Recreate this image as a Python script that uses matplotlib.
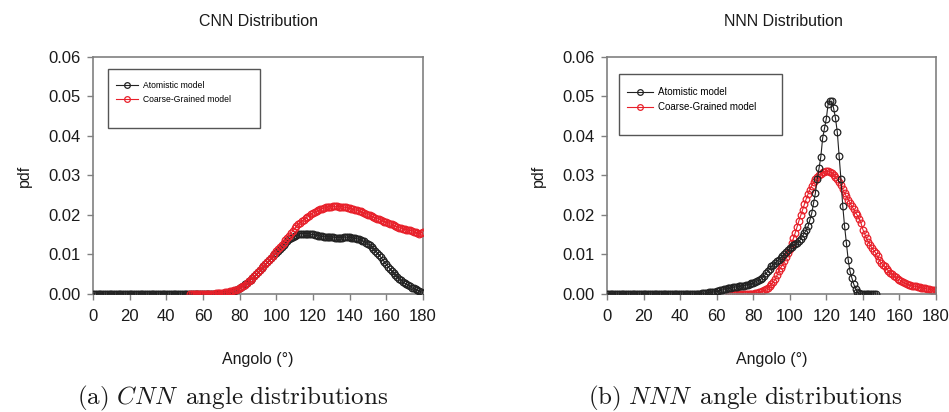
import numpy as np
from matplotlib import pyplot as plt
from matplotlib.patches import Rectangle
from matplotlib.ticker import FormatStrFormatter

""" ======================= Data (read off the figure) ======================= """
# CNN panel
cnn_atom_x = np.arange(0, 181)
cnn_atom_y = [
    0.0, 0.0, 0.0, 0.0, 0.0, 0.0, 0.0, 0.0, 0.0, 0.0,
    0.0, 0.0, 0.0, 0.0, 0.0, 0.0, 0.0, 0.0, 0.0, 0.0,
    0.0, 0.0, 0.0, 0.0, 0.0, 0.0, 0.0, 0.0, 0.0, 0.0,
    0.0, 0.0, 0.0, 0.0, 0.0, 0.0, 0.0, 0.0, 0.0, 0.0,
    0.0, 0.0, 0.0, 0.0, 0.0, 0.0, 0.0, 0.0, 0.0, 0.0,
    0.0, 0.0, 0.0, 0.0, 0.0, 0.0, 0.0, 0.0, 0.0, 0.0,
    0.0, 0.0, 0.0, 0.0, 0.0, 0.0, 0.0, 0.0, 0.0, 0.0,
    0.0, 0.0, 0.0, 0.0001, 0.0002, 0.0003, 0.0005, 0.0007, 0.0009, 0.0012,
    0.0015, 0.0018, 0.0021, 0.0025, 0.0028, 0.0032, 0.0036, 0.0041, 0.0045, 0.0050,
    0.0055, 0.0060, 0.0065, 0.0070, 0.0075, 0.0080, 0.0085, 0.0090, 0.0095, 0.0100,
    0.0105, 0.0110, 0.0115, 0.0120, 0.0125, 0.0130, 0.0134, 0.0138, 0.0142, 0.0145,
    0.0147, 0.0150, 0.0152, 0.0153, 0.0153, 0.0153, 0.0153, 0.0152, 0.0152, 0.0151,
    0.0151, 0.0150, 0.0149, 0.0148, 0.0147, 0.0146, 0.0145, 0.0145, 0.0144, 0.0144,
    0.0144, 0.0144, 0.0143, 0.0143, 0.0143, 0.0143, 0.0143, 0.0144, 0.0144, 0.0144,
    0.0144, 0.0143, 0.0142, 0.0141, 0.0140, 0.0139, 0.0137, 0.0135, 0.0133, 0.0130,
    0.0127, 0.0123, 0.0119, 0.0114, 0.0110, 0.0105, 0.0099, 0.0093, 0.0087, 0.0081,
    0.0075, 0.0069, 0.0064, 0.0058, 0.0053, 0.0048, 0.0044, 0.0039, 0.0035, 0.0031,
    0.0027, 0.0025, 0.0022, 0.0019, 0.0016, 0.0014, 0.0012, 0.0010, 0.0008, 0.0005,
    0.0003]

cnn_cg_x = np.arange(53, 181)
cnn_cg_y = [
    0.0, 0.0, 0.0, 0.0, 0.0, 0.0, 0.0,
    0.0001, 0.0001, 0.0001, 0.0001, 0.0001, 0.0001, 0.0001,
    0.0002, 0.0002, 0.0002, 0.0002, 0.0003, 0.0004, 0.0005, 0.0006, 0.0007, 0.0008,
    0.0009, 0.0011, 0.0013, 0.0015, 0.0018, 0.0021, 0.0024, 0.0028, 0.0032, 0.0036,
    0.0040, 0.0045, 0.0050, 0.0055, 0.0060, 0.0065, 0.0070, 0.0075, 0.0080, 0.0086,
    0.0091, 0.0097, 0.0102, 0.0108, 0.0113, 0.0119, 0.0124, 0.0130, 0.0136, 0.0142,
    0.0148, 0.0154, 0.0160, 0.0166, 0.0171, 0.0176, 0.0180, 0.0184, 0.0188, 0.0192,
    0.0195, 0.0198, 0.0202, 0.0205, 0.0207, 0.0210, 0.0212, 0.0214, 0.0216, 0.0217,
    0.0219, 0.0220, 0.0221, 0.0221, 0.0222, 0.0222, 0.0222, 0.0221, 0.0221, 0.0221,
    0.0220, 0.0219, 0.0218, 0.0217, 0.0216, 0.0214, 0.0213, 0.0212, 0.0210, 0.0209,
    0.0207, 0.0205, 0.0203, 0.0201, 0.0199, 0.0197, 0.0195, 0.0193, 0.0191, 0.0189,
    0.0187, 0.0185, 0.0183, 0.0182, 0.0180, 0.0178, 0.0176, 0.0174, 0.0172, 0.0170,
    0.0168, 0.0167, 0.0165, 0.0164, 0.0163, 0.0162, 0.0161, 0.0160, 0.0158, 0.0156,
    0.0155, 0.0153, 0.0155, 0.0157]

# NNN panel
nnn_atom_x = np.arange(0, 148)
nnn_atom_y = [
    0.0, 0.0, 0.0, 0.0, 0.0, 0.0, 0.0, 0.0, 0.0, 0.0,
    0.0, 0.0, 0.0, 0.0, 0.0, 0.0, 0.0, 0.0, 0.0, 0.0,
    0.0, 0.0, 0.0, 0.0, 0.0, 0.0, 0.0, 0.0, 0.0, 0.0,
    0.0, 0.0, 0.0, 0.0, 0.0, 0.0, 0.0, 0.0, 0.0, 0.0,
    0.0, 0.0, 0.0, 0.0, 0.0, 0.0, 0.0, 0.0, 0.0, 0.0,
    0.0001, 0.0001, 0.0002, 0.0002, 0.0003, 0.0003, 0.0004, 0.0005, 0.0005, 0.0006,
    0.0007, 0.0008, 0.0009, 0.0010, 0.0012, 0.0013, 0.0014, 0.0015, 0.0016, 0.0017,
    0.0018, 0.0018, 0.0019, 0.0020, 0.0020, 0.0021, 0.0022, 0.0024, 0.0025, 0.0027,
    0.0028, 0.0030, 0.0032, 0.0035, 0.0037, 0.0040, 0.0046, 0.0052, 0.0058, 0.0064,
    0.0070, 0.0074, 0.0078, 0.0083, 0.0087, 0.0091, 0.0096, 0.0101, 0.0106, 0.0111,
    0.0116, 0.0120, 0.0123, 0.0126, 0.0130, 0.0133, 0.0139, 0.0146, 0.0154, 0.0162,
    0.0171, 0.0187, 0.0204, 0.0230, 0.0255, 0.0290, 0.0318, 0.0348, 0.0395, 0.0420,
    0.0444, 0.0482, 0.0488, 0.0488, 0.0470, 0.0445, 0.0410, 0.0350, 0.0290, 0.0222,
    0.0171, 0.0128, 0.0085, 0.0057, 0.0040, 0.0025, 0.0013, 0.0005, 0.0002, 0.0001,
    0.0, 0.0, 0.0, 0.0, 0.0, 0.0, 0.0, 0.0]

nnn_cg_x = np.arange(67, 181)
nnn_cg_y = [
    0.0, 0.0, 0.0, 0.0, 0.0, 0.0, 0.0, 0.0, 0.0, 0.0,
    0.0, 0.0, 0.0001, 0.0001, 0.0002, 0.0003, 0.0004, 0.0005, 0.0007, 0.0009,
    0.0012, 0.0015, 0.0020, 0.0025, 0.0031, 0.0037, 0.0047, 0.0058, 0.0066, 0.0074,
    0.0083, 0.0093, 0.0104, 0.0115, 0.0128, 0.0141, 0.0155, 0.0170, 0.0185, 0.0199,
    0.0213, 0.0227, 0.0241, 0.0253, 0.0264, 0.0274, 0.0283, 0.0290, 0.0296, 0.0301,
    0.0305, 0.0308, 0.0310, 0.0311, 0.0311, 0.0309, 0.0306, 0.0301, 0.0296, 0.0290,
    0.0283, 0.0275, 0.0265, 0.0255, 0.0247, 0.0239, 0.0230, 0.0222, 0.0214, 0.0206,
    0.0199, 0.0190, 0.0179, 0.0163, 0.0152, 0.0141, 0.0132, 0.0124, 0.0116, 0.0110,
    0.0104, 0.0095, 0.0086, 0.0078, 0.0074, 0.0070, 0.0064, 0.0058, 0.0053, 0.0050,
    0.0046, 0.0042, 0.0038, 0.0036, 0.0033, 0.0030, 0.0027, 0.0025, 0.0023, 0.0022,
    0.0021, 0.0020, 0.0019, 0.0018, 0.0017, 0.0016, 0.0015, 0.0014, 0.0013, 0.0012,
    0.0011, 0.0010, 0.0010, 0.0009]

titles = ['CNN Distribution', 'NNN Distribution']
captions = [r'$\mathrm{(a)}\ CNN\ \,\mathrm{angle\ distributions}$',
            r'$\mathrm{(b)}\ NNN\ \,\mathrm{angle\ distributions}$']
labels = ['Atomistic model', 'Coarse-Grained model']
xticks = [0, 20, 40, 60, 80, 100, 120, 140, 160, 180]
yticks = [0.00, 0.01, 0.02, 0.03, 0.04, 0.05, 0.06]

""" ======================= Plot ======================= """
plt.rcParams['font.family'] = ['Liberation Sans', 'DejaVu Sans']
plt.rcParams['mathtext.fontset'] = 'cm'

black = '#222222'
red = '#e8202a'
spine_col = '#808080'

fig = plt.figure(figsize=(9.49, 4.12), dpi=100)
ax1 = fig.add_axes([0.098, 0.2864, 0.3477, 0.5753])
ax2 = fig.add_axes([0.6396, 0.2864, 0.3467, 0.5753])

data = [(cnn_atom_x, cnn_atom_y, cnn_cg_x, cnn_cg_y),
        (nnn_atom_x, nnn_atom_y, nnn_cg_x, nnn_cg_y)]
# red drawn over black on the CNN panel, black over red on NNN
cg_z = [4, 2]
# legend box (axes fraction): x0, y0, w, h ; legend anchor ; font size
boxes = [(0.0455, 0.700, 0.4605, 0.249), (0.0365, 0.671, 0.4955, 0.257)]
anchors = [(0.045, 0.93), (0.035, 0.91)]
lfs = [6.2, 7.0]
title_x = [0.272, 0.826]
cap_x = [0.245, 0.786]

for k, ax in enumerate([ax1, ax2]):
    ax_x, ax_y, cg_x, cg_y = data[k]
    ax.plot(ax_x, ax_y, color=black, lw=0.8, marker='o', ms=4.8,
            mfc='none', mec=black, mew=0.9, label=labels[0], zorder=3)
    ax.plot(cg_x, cg_y, color=red, lw=0.8, marker='o', ms=4.8,
            mfc='none', mec=red, mew=0.9, label=labels[1], zorder=cg_z[k])

    ax.set_xlim(0, 180)
    ax.set_ylim(0, 0.06)
    ax.set_xticks(xticks)
    ax.set_yticks(yticks)
    ax.yaxis.set_major_formatter(FormatStrFormatter('%.2f'))
    ax.tick_params(direction='out', length=4, width=1, color=spine_col,
                   labelsize=12, labelcolor='#1a1a1a')
    ax.tick_params(axis='y', pad=5)
    ax.tick_params(axis='x', pad=7)
    for s in ax.spines.values():
        s.set_color(spine_col)
        s.set_linewidth(1.2)

    ax.set_xlabel('Angolo (°)', fontsize=11.5, labelpad=20, color='#1a1a1a')
    ax.set_ylabel('pdf', fontsize=11.5, labelpad=12, color='#1a1a1a')

    bx = boxes[k]
    ax.add_patch(Rectangle((bx[0], bx[1]), bx[2], bx[3], transform=ax.transAxes,
                           fill=False, edgecolor='#555555', lw=1.0, zorder=5))
    leg = ax.legend(loc='upper left', bbox_to_anchor=anchors[k], frameon=False,
                    fontsize=lfs[k], handlelength=2.6, handletextpad=0.6,
                    labelspacing=0.55, markerscale=0.85)
    leg.set_zorder(6)

    fig.text(title_x[k], 0.949, titles[k], ha='center', va='center',
             fontsize=11.5, color='#1a1a1a')
    fig.text(cap_x[k], 0.034, captions[k], ha='center', va='center',
             fontsize=18, color='#1a1a1a')

fig.savefig('out.png', dpi=100)
